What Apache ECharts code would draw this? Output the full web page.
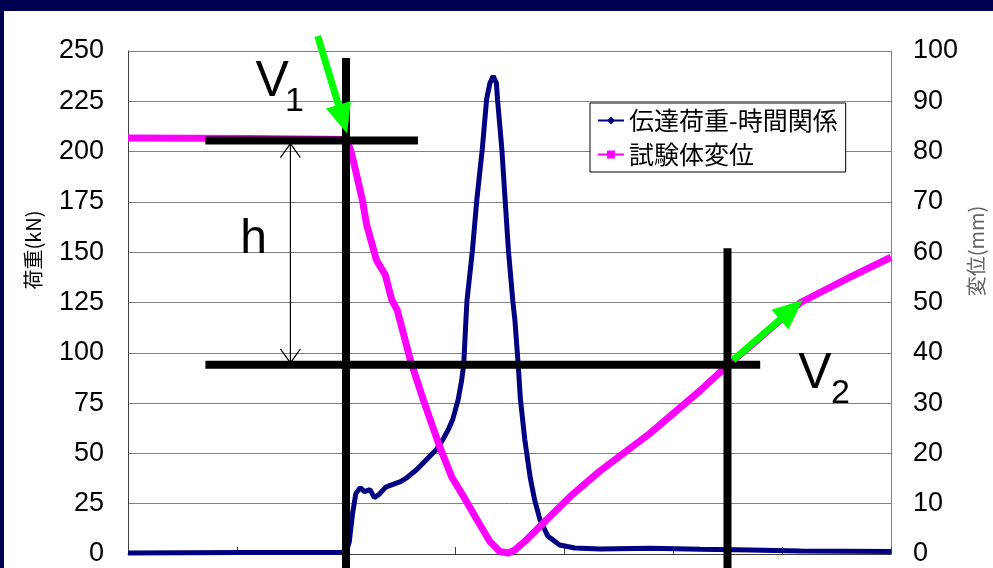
<!DOCTYPE html>
<html>
<head>
<meta charset="utf-8">
<script src="https://cdn.jsdelivr.net/npm/echarts@6/dist/echarts.min.js"></script>
<style>
  html, body { margin: 0; padding: 0; background: #000050; }
  #chart { width: 993px; height: 568px; }
</style>
</head>
<body>
<div id="chart"></div>
<script>
// Transmitted load vs time (kN, left axis)
const loadTime = [0.00, 1.03, 2.00, 2.03, 2.06, 2.09, 2.13, 2.17, 2.22, 2.26, 2.31, 2.36, 2.40, 2.45, 2.50,
  2.56, 2.65, 2.74, 2.83, 2.89, 2.94, 2.98, 3.03, 3.06, 3.08, 3.10, 3.11, 3.16, 3.20, 3.25, 3.29, 3.32, 3.35,
  3.38, 3.39, 3.43, 3.46, 3.49, 3.53, 3.55, 3.58, 3.60, 3.64, 3.69, 3.73, 3.78, 3.85, 3.96, 4.10, 4.33, 4.79,
  5.25, 5.71, 6.17, 7.00];
const loadKN = [0.5, 0.8, 0.8, 6, 20, 30, 33, 31, 32, 28, 30, 33, 34, 35, 36,
  38, 42, 47, 52, 57, 62, 67, 77, 86, 94, 116, 126, 151, 176, 201, 226, 234, 237.6,
  234, 226, 201, 176, 151, 126, 116, 94, 77, 57, 38, 27, 17, 9, 4.5, 3, 2.5, 2.8,
  2.3, 2, 1.5, 1.2];

// Specimen displacement vs time (mm, right axis)
const dispTime = [0.00, 1.12, 2.00, 2.04, 2.08, 2.15, 2.19, 2.28, 2.36, 2.42, 2.47, 2.59, 2.71, 2.86, 2.97, 3.09,
  3.21, 3.32, 3.41, 3.49, 3.55, 3.64, 3.78, 3.92, 4.06, 4.33, 4.79, 5.25, 5.50, 5.80, 6.17, 6.62, 7.00];
const dispMM = [82.7, 82.6, 82.4, 80.5, 77, 70.4, 65.4, 58.4, 55.5, 50.5, 48.5, 38.6, 30.6, 21.3, 15.3, 11,
  6.5, 2.5, 0.5, 0.2, 0.8, 2.5, 5.5, 8.5, 11.5, 16.5, 24, 32.5, 37.5, 43, 50, 55, 59];

const seriesNames = ['伝達荷重-時間関係', '試験体変位'];
const loadRange = [0, 250], loadStep = 25;
const dispRange = [0, 100], dispStep = 10;
const timeRange = [0, 7], timeStep = 1;

// Guide lines (time, load): impact instant, V1 / V2 levels, rebound instant
const impactTime = 2.0, reboundTime = 5.5;
const levelV1 = 205.5, levelV2 = 94;

const chart = echarts.init(document.getElementById('chart'), null, { renderer: 'canvas' });

const tickFont = '"Liberation Sans", Arial, sans-serif';
const cjkFont = '"Noto Sans CJK JP", sans-serif';

chart.setOption({
  animation: false,
  backgroundColor: '#000050',
  grid: { left: 128, right: 102, top: 51, bottom: 14 },
  legend: {
    data: seriesNames,
    orient: 'vertical', left: 590, top: 103,
    backgroundColor: '#ffffff', borderColor: '#000000', borderWidth: 1, borderRadius: 0,
    padding: [5, 8, 5, 7], itemGap: 9, itemWidth: 26, itemHeight: 10,
    textStyle: { fontFamily: cjkFont, fontSize: 25, color: '#000' }
  },
  xAxis: {
    type: 'value', min: timeRange[0], max: timeRange[1], interval: timeStep,
    axisLine: { lineStyle: { color: '#404040', width: 1 } },
    axisTick: { show: true, inside: true, length: 7, lineStyle: { color: '#404040' } },
    axisLabel: { show: false },
    splitLine: { show: false }
  },
  yAxis: [
    {
      type: 'value', min: loadRange[0], max: loadRange[1], interval: loadStep, position: 'left',
      axisLine: { show: true, lineStyle: { color: '#404040' } },
      axisTick: { show: false },
      axisLabel: { fontFamily: tickFont, fontSize: 27, color: '#000', margin: 24 },
      splitLine: { show: true, lineStyle: { color: '#808080', width: 1 } }
    },
    {
      type: 'value', min: dispRange[0], max: dispRange[1], interval: dispStep, position: 'right',
      axisLine: { show: true, lineStyle: { color: '#808080' } },
      axisTick: { show: false },
      axisLabel: { fontFamily: tickFont, fontSize: 27, color: '#000', margin: 22 },
      splitLine: { show: false }
    }
  ],
  series: [
    {
      name: seriesNames[0], type: 'line', yAxisIndex: 0,
      data: loadTime.map((t, i) => [t, loadKN[i]]),
      showSymbol: false, symbol: 'diamond', symbolSize: 9,
      lineStyle: { color: '#000080', width: 5 }, itemStyle: { color: '#000080' }, z: 2
    },
    {
      name: seriesNames[1], type: 'line', yAxisIndex: 1,
      data: dispTime.map((t, i) => [t, dispMM[i]]),
      showSymbol: false, symbol: 'rect', symbolSize: 8,
      lineStyle: { color: '#ff00ff', width: 7 }, itemStyle: { color: '#ff00ff' }, z: 3
    }
  ]
});

// Pixel position of a (time, load) pair on the chart
const px = (t, kN) => chart.convertToPixel({ xAxisIndex: 0, yAxisIndex: 0 }, [t, kN]);

function bar(a, b, w) {
  const p = px(a[0], a[1]), q = px(b[0], b[1]);
  return { type: 'line', z: 100, shape: { x1: p[0], y1: p[1], x2: q[0], y2: q[1] },
    style: { stroke: '#000', lineWidth: w } };
}

function greenArrow(from, to) {
  const p = px(from[0], from[1]), q = px(to[0], to[1]);
  const dx = q[0] - p[0], dy = q[1] - p[1], len = Math.hypot(dx, dy);
  const ux = dx / len, uy = dy / len, nx = -uy, ny = ux;
  const head = 30, half = 13;
  const bx = q[0] - ux * head, by = q[1] - uy * head;
  return [
    { type: 'line', z: 101, shape: { x1: p[0], y1: p[1], x2: bx + ux * 2, y2: by + uy * 2 },
      style: { stroke: '#00ff00', lineWidth: 7 } },
    { type: 'polygon', z: 101,
      shape: { points: [[q[0], q[1]], [bx + nx * half, by + ny * half], [bx - nx * half, by - ny * half]] },
      style: { fill: '#00ff00' } }
  ];
}

function dimArrow(t, top, bottom) {
  const a = px(t, top), b = px(t, bottom);
  const h = 14, w = 10;
  return [
    { type: 'line', z: 100, shape: { x1: a[0], y1: a[1], x2: b[0], y2: b[1] }, style: { stroke: '#000', lineWidth: 1.2 } },
    { type: 'polyline', z: 100, shape: { points: [[a[0] - w, a[1] + h], [a[0], a[1]], [a[0] + w, a[1] + h]] },
      style: { stroke: '#000', lineWidth: 1.2, fill: null } },
    { type: 'polyline', z: 100, shape: { points: [[b[0] - w, b[1] - h], [b[0], b[1]], [b[0] + w, b[1] - h]] },
      style: { stroke: '#000', lineWidth: 1.2, fill: null } }
  ];
}

function label(t, kN, text, size) {
  const p = px(t, kN);
  return { type: 'text', z: 102, x: p[0], y: p[1],
    style: { text: text, font: size + 'px ' + tickFont, fill: '#000', align: 'left', verticalAlign: 'bottom' } };
}

const elements = [
  // white panel
  { type: 'rect', z: -10, shape: { x: 4, y: 11, width: 993, height: 568 }, style: { fill: '#ffffff' } },
  // axis titles
  { type: 'text', z: 5, x: 33, y: 250, rotation: Math.PI / 2,
    style: { text: '荷重(kN)', font: '20px ' + cjkFont, fill: '#000', align: 'center', verticalAlign: 'middle' } },
  { type: 'text', z: 5, x: 976, y: 251, rotation: Math.PI / 2,
    style: { text: '変位(mm)', font: '20px ' + cjkFont, fill: '#666', align: 'center', verticalAlign: 'middle' } },
  // guide lines
  bar([impactTime, 246.5], [impactTime, -8], 8),
  bar([0.71, levelV1], [2.66, levelV1], 8),
  bar([0.71, levelV2], [5.80, levelV2], 8),
  bar([reboundTime, 152], [reboundTime, -8], 8),
  ...dimArrow(1.49, 204, 95),
  ...greenArrow([1.74, 257.5], [2.01, 209]),
  ...greenArrow([5.55, 96.4], [6.19, 126.2]),
  label(1.03, 144.2, 'h', 48),
  label(1.17, 222.2, 'V', 50),
  label(1.44, 216.4, '1', 34),
  label(6.15, 77, 'V', 50),
  label(6.45, 71.5, '2', 34)
];

chart.setOption({ graphic: { elements: elements } });
</script>
</body>
</html>
